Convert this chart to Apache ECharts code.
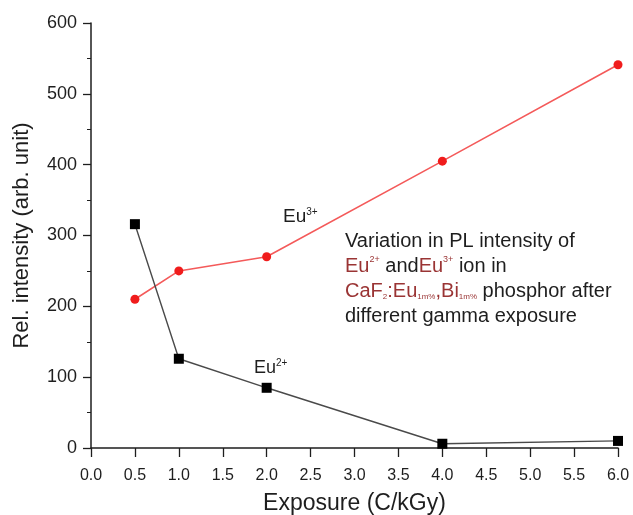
<!DOCTYPE html>
<html>
<head>
<meta charset="utf-8">
<script src="https://cdn.jsdelivr.net/npm/echarts@6/dist/echarts.min.js"></script>
<style>
  html, body { margin: 0; padding: 0; background: #fff; }
  #view { width: 633px; height: 515px; }
</style>
</head>
<body>
<div id="view"></div>
<script>
var myChart = echarts.init(document.getElementById('view'));

// exposure (C/kGy)
var exposure = [0.5, 1.0, 2.0, 4.0, 6.0];
// Eu3+ (red) and Eu2+ (black) intensities
var eu3 = [210, 250, 270, 405, 541];
var eu2 = [316, 126, 85, 6, 10];
var xTicks = ['0.0', '0.5', '1.0', '1.5', '2.0', '2.5', '3.0', '3.5', '4.0', '4.5', '5.0', '5.5', '6.0'];

var font = 'Liberation Sans, Arial, sans-serif';
var brown = '#9a3434';
var ink = '#1e1e1e';

var option = {
    backgroundColor: '#fff',
    animation: false,
    grid: { left: 91, right: 15, top: 23, bottom: 67, outerBoundsMode: 'none', containLabel: false },
    xAxis: {
        type: 'value',
        min: 0, max: 6, interval: 0.5,
        name: 'Exposure (C/kGy)',
        nameLocation: 'middle',
        nameGap: 44,
        nameTextStyle: { fontFamily: font, fontSize: 23, color: ink },
        axisLine: { lineStyle: { color: ink, width: 1.5 } },
        axisTick: { length: 9, lineStyle: { color: ink, width: 1.3 } },
        axisLabel: {
            fontFamily: font, fontSize: 16, color: ink, margin: 20,
            formatter: function (v) { return xTicks[Math.round(v * 2)]; }
        },
        splitLine: { show: false }
    },
    yAxis: {
        type: 'value',
        min: 0, max: 600, interval: 100,
        name: 'Rel. intensity (arb. unit)',
        nameLocation: 'middle',
        nameGap: 58,
        nameTextStyle: { fontFamily: font, fontSize: 22, color: ink },
        axisLine: { show: true, lineStyle: { color: ink, width: 1.5 } },
        axisTick: { length: 8, lineStyle: { color: ink, width: 1.3 } },
        minorTick: { show: true, splitNumber: 2, length: 4, lineStyle: { color: ink, width: 1 } },
        axisLabel: { fontFamily: font, fontSize: 18, color: ink, margin: 14 },
        splitLine: { show: false }
    },
    series: [
        {
            name: 'Eu3+',
            type: 'line',
            data: exposure.map(function (x, i) { return [x, eu3[i]]; }),
            symbol: 'circle',
            symbolSize: 9,
            itemStyle: { color: '#f01c1c' },
            lineStyle: { color: '#f45a5a', width: 1.6 }
        },
        {
            name: 'Eu2+',
            type: 'line',
            data: exposure.map(function (x, i) { return [x, eu2[i]]; }),
            symbol: 'rect',
            symbolSize: 10,
            itemStyle: { color: '#000' },
            lineStyle: { color: '#4a4a4a', width: 1.4 }
        }
    ],
    graphic: [
        {
            type: 'text', left: 283, top: 207,
            style: {
                text: '{b|Eu}{s|3+}',
                rich: {
                    b: { fontFamily: font, fontSize: 19, fill: ink },
                    s: { fontFamily: font, fontSize: 10, fill: ink, padding: [0, 0, 10, 0] }
                }
            }
        },
        {
            type: 'text', left: 254, top: 358,
            style: {
                text: '{b|Eu}{s|2+}',
                rich: {
                    b: { fontFamily: font, fontSize: 18, fill: ink },
                    s: { fontFamily: font, fontSize: 10, fill: ink, padding: [0, 0, 10, 0] }
                }
            }
        },
        {
            type: 'text', left: 345, top: 231,
            style: {
                text: '{k|Variation in PL intensity of}\n' +
                      '{r|Eu}{rs|2+}{k| and}{r|Eu}{rs|3+}{k| ion in}\n' +
                      '{r|CaF}{rb|2}{r|:Eu}{rb|1m%}{r|,Bi}{rb|1m%}{k| phosphor after}\n' +
                      '{k|different gamma exposure}',
                rich: {
                    k: { fontFamily: font, fontSize: 20, fill: ink, lineHeight: 25 },
                    r: { fontFamily: font, fontSize: 20, fill: brown, lineHeight: 25 },
                    rs: { fontFamily: font, fontSize: 9, fill: brown, lineHeight: 25, padding: [0, 0, 12, 0] },
                    rb: { fontFamily: font, fontSize: 8, fill: brown, lineHeight: 25, padding: [12, 0, 0, 0] }
                }
            }
        }
    ]
};

myChart.setOption(option);
</script>
</body>
</html>
